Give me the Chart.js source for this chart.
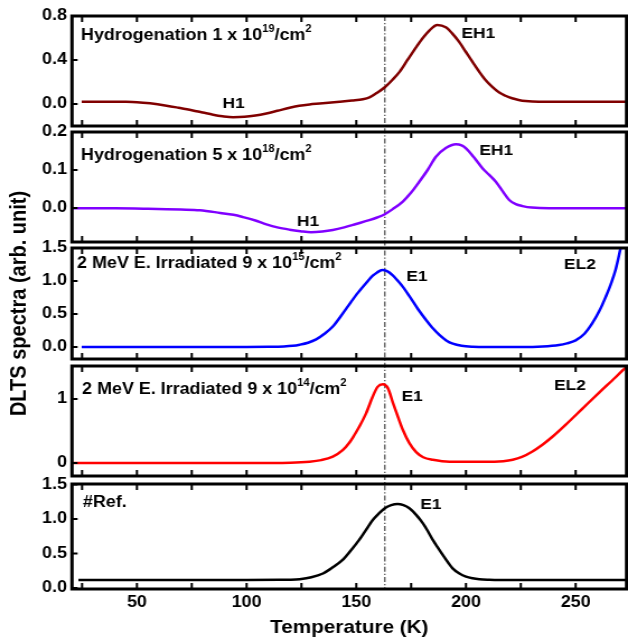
<!DOCTYPE html>
<html><head><meta charset="utf-8">
<script src="https://cdn.jsdelivr.net/npm/chart.js@4.4.1/dist/chart.umd.min.js"></script>
<style>
html,body{margin:0;padding:0;background:#fff;overflow:hidden;width:628px;height:643px;}
#c{position:absolute;left:0;top:0;transform:scaleX(1.11943);transform-origin:0 0;}
</style></head><body>
<canvas id="c" width="561" height="643"></canvas>
<script>
// ---- x axis ----
const X_MIN = 20.4, X_MAX = 273.2;
const X_TICKS = [25, 50, 75, 100, 125, 150, 175, 200, 225, 250];
const X_LABELED = [50, 100, 150, 200, 250];
const REF_LINE_T = 163.0;

// ---- series (Temperature K, DLTS signal) ----
const T1 = [24.8,35,45,50,56,63.5,69,75,80,84.7,89,93.8,99,104,109,114,119.6,124,128.7,133.3,142.4,148,153,156,159.1,163,166.5,169.8,173.5,177.4,180.5,183.4,186.9,190.8,193.8,196.8,199.9,202.9,206,208.9,212,215,218,221,224,227.1,233.2,245,260,273];
const V1 = [0.021,0.021,0.020,0.017,0.006,-0.015,-0.034,-0.056,-0.077,-0.097,-0.111,-0.120,-0.117,-0.105,-0.086,-0.062,-0.034,-0.016,-0.004,0.004,0.020,0.031,0.043,0.06,0.097,0.152,0.22,0.294,0.405,0.52,0.605,0.67,0.718,0.697,0.64,0.567,0.475,0.385,0.295,0.218,0.155,0.106,0.075,0.052,0.037,0.027,0.02,0.02,0.02,0.02];

const T2 = [20.4,40,55,63.6,70,78.7,88,94,98.4,104,109,114,119.6,124.5,129.4,134.5,139.3,144.5,149.9,155.9,159.5,162.8,166.6,171.2,174.9,178.7,182.5,186.3,190.8,195.4,198,200,203.8,207.6,210.6,213.6,216.6,219.7,222.7,225.8,230,237.9,255,273];
const V2 = [-0.001,-0.001,-0.002,-0.003,-0.004,-0.006,-0.013,-0.018,-0.024,-0.033,-0.043,-0.051,-0.057,-0.061,-0.064,-0.062,-0.058,-0.051,-0.042,-0.032,-0.025,-0.017,-0.003,0.017,0.04,0.069,0.10,0.135,0.158,0.168,0.165,0.157,0.132,0.104,0.087,0.069,0.045,0.021,0.01,0.005,0.001,-0.001,-0.001,-0.001];

const T3 = [24.8,60,100,110,117,121,124.2,128,131.7,135.5,139.3,143,146.9,150.7,154.5,157.5,159.5,161.8,164,166.5,169,171.5,174.2,178,181.8,185,188,191,194,198,203,210,225,235,242.4,246,250,254,257.6,261,263.7,266,268.2,270.5];
const V3 = [0,0,0,0.002,0.008,0.018,0.035,0.065,0.115,0.20,0.31,0.47,0.65,0.82,0.97,1.08,1.13,1.165,1.15,1.09,1.0,0.9,0.77,0.58,0.41,0.28,0.18,0.10,0.05,0.018,0.004,0,0,0.008,0.03,0.055,0.10,0.20,0.36,0.56,0.76,0.95,1.17,1.5];

const T4 = [20.4,60,100,120,128.7,134,139.3,143.8,146.9,149,151.4,154.5,157.5,159.7,162.1,164.4,166.7,169,171.2,174.2,177.3,180.5,184.9,192.5,205,213,217,221.3,225.5,230.3,235,239.4,245.5,253.1,260.7,268.2,273];
const V4 = [0,0,0,0.005,0.02,0.045,0.10,0.20,0.32,0.43,0.57,0.78,1.04,1.19,1.23,1.17,0.94,0.72,0.52,0.31,0.17,0.09,0.05,0.02,0.02,0.02,0.027,0.05,0.095,0.18,0.29,0.41,0.60,0.85,1.10,1.34,1.5];

const T5 = [23.3,60,100,115,120,124.2,129.5,134.8,139.3,143.9,147.7,151.4,154.5,157.5,160.3,163,165.9,168.8,171.5,174.2,177.3,180.3,182.5,184.8,187.1,189.4,191.6,193.9,197,200,203,206.1,210.6,215.1,230,250,273];
const V5 = [0.116,0.116,0.116,0.118,0.12,0.128,0.155,0.21,0.30,0.41,0.55,0.70,0.845,0.985,1.08,1.155,1.2,1.217,1.2,1.155,1.06,0.94,0.83,0.70,0.59,0.48,0.38,0.285,0.21,0.164,0.14,0.126,0.119,0.116,0.116,0.116,0.116];

// ---- panel y axes ----
const Y_RANGES = [[-0.2, 0.8], [-0.0895, 0.2], [-0.182, 1.5], [-0.203, 1.516], [-0.0145, 1.507]];
const Y_TICKS = [[0, 0.4, 0.8], [0, 0.1, 0.2], [0, 0.5, 1, 1.5], [0, 1], [0, 0.5, 1, 1.5]];
const Y_TICK_LABELS = [['0.0','0.4','0.8'], ['0.0','0.1','0.2'], ['0.0','0.5','1.0','1.5'], ['0','1'], ['0.0','0.5','1.0','1.5']];

// ---- texts ----
const TITLES = [
  ['Hydrogenation 1 x 10', '19', '/cm', '2'],
  ['Hydrogenation 5 x 10', '18', '/cm', '2'],
  ['2 MeV E. Irradiated 9 x 10', '15', '/cm', '2'],
  ['2 MeV E. Irradiated 9 x 10', '14', '/cm', '2'],
  ['#Ref.']
];
const TITLE_T = [24.5, 24.5, 22.7, 25.0, 25.4];
const TITLE_V = [0.582, 0.126, 1.197, 1.078, 1.174];
const PEAK_TEXT  = ['H1', 'EH1', 'H1', 'EH1', 'E1', 'EL2', 'E1', 'EL2', 'E1'];
const PEAK_PANEL = [0, 0, 1, 1, 2, 2, 3, 3, 4];
const PEAK_T     = [94.1, 197.9, 128.0, 206.1, 172.8, 244.7, 170.6, 240.2, 179.2];
const PEAK_V     = [-0.036, 0.60, -0.047, 0.139, 1.0, 1.18, 0.97, 1.14, 1.145];
const PEAK_ALIGN = ['center', 'left', 'center', 'left', 'left', 'left', 'left', 'left', 'left'];

// ---- style ----
const FONT = '"Liberation Sans", Arial, Helvetica, sans-serif';
const COLORS = ['#800000', '#8000ff', '#0000ff', '#ff0000', '#000000'];
const PANEL_H = [110, 110, 111, 110, 105];
const GAP_H = [6, 6, 7, 8];
const LEFT_W = 64.3;

const TS = [T1, T2, T3, T4, T5];
const VS = [V1, V2, V3, V4, V5];
const PANEL_IDS = ['p0', 'p1', 'p2', 'p3', 'p4'];

const scales = {
  x: {
    type: 'linear', position: 'bottom', min: X_MIN, max: X_MAX,
    grid: { display: false, drawTicks: false }, border: { display: false },
    afterBuildTicks: s => { s.ticks = X_TICKS.map(v => ({ value: v })); },
    afterFit: s => { s.height = 54; },
    ticks: {
      color: '#000', padding: 4, maxRotation: 0, autoSkip: false,
      font: { family: FONT, size: 16, weight: 'bold' },
      callback: v => (X_LABELED.includes(v) ? String(v) : '')
    },
    title: {
      display: true, text: 'Temperature (K)', color: '#000',
      font: { family: FONT, size: 18.5, weight: 'bold' }, padding: { top: 0, bottom: 4 }
    }
  }
};
let w = 9;
PANEL_IDS.forEach((id, i) => {
  scales[id] = {
    type: 'linear', position: 'left', stack: 'v', stackWeight: PANEL_H[i], weight: w--,
    min: Y_RANGES[i][0], max: Y_RANGES[i][1],
    grid: { display: false, drawTicks: false }, border: { display: false },
    afterBuildTicks: s => { s.ticks = Y_TICKS[i].map(v => ({ value: v })); },
    afterFit: s => { s.width = LEFT_W; },
    ticks: {
      color: '#000', padding: 4.5, autoSkip: false,
      font: { family: FONT, size: 16, weight: 'bold' },
      callback: (v, k) => Y_TICK_LABELS[i][k]
    },
    title: i === 2 ? {
      display: true, text: 'DLTS spectra (arb. unit)', color: '#000',
      font: { family: FONT, size: 20, weight: 'bold' }, padding: { top: 5, bottom: 0 }
    } : { display: false }
  };
  if (i < 4) {
    scales['g' + i] = {
      type: 'linear', position: 'left', stack: 'v', stackWeight: GAP_H[i], weight: w--,
      min: 0, max: 1, grid: { display: false, drawTicks: false }, border: { display: false },
      ticks: { display: false }, afterFit: s => { s.width = LEFT_W; }
    };
  }
});

const datasets = PANEL_IDS.map((id, i) => ({
  data: TS[i].map((t, k) => ({ x: t, y: VS[i][k] })),
  yAxisID: id, xAxisID: 'x',
  borderColor: COLORS[i], borderWidth: 2.5, pointRadius: 0, fill: false,
  cubicInterpolationMode: 'monotone'
}));

const framePlugin = {
  id: 'frame',
  beforeDatasetsDraw(chart) {
    const { ctx, chartArea: ca, scales: sc } = chart;
    const px = sc.x.getPixelForValue(REF_LINE_T);
    ctx.save();
    ctx.strokeStyle = '#555';
    ctx.lineWidth = 1.3;
    ctx.setLineDash([5, 2, 1.2, 2]);
    ctx.beginPath(); ctx.moveTo(px, ca.top); ctx.lineTo(px, ca.bottom); ctx.stroke();
    ctx.restore();
  },
  afterDatasetsDraw(chart) {
    const { ctx, chartArea: ca, scales: sc } = chart;
    const xs = sc.x;
    ctx.save();
    ctx.strokeStyle = '#000';
    PANEL_IDS.forEach(id => {
      const ys = sc[id];
      ctx.lineWidth = 3;
      ctx.strokeRect(ca.left, ys.top, ca.right - ca.left, ys.bottom - ys.top);
      ctx.lineWidth = 2;
      ctx.beginPath();
      xs.ticks.forEach(t => {
        const p = xs.getPixelForValue(t.value);
        ctx.moveTo(p, ys.top); ctx.lineTo(p, ys.top + 6);
        ctx.moveTo(p, ys.bottom); ctx.lineTo(p, ys.bottom - 6);
      });
      ys.ticks.forEach(t => {
        const p = ys.getPixelForValue(t.value);
        ctx.moveTo(ca.left, p); ctx.lineTo(ca.left + 5, p);
      });
      ctx.stroke();
    });
    ctx.fillStyle = '#000';
    ctx.textBaseline = 'alphabetic';
    ctx.textAlign = 'left';
    TITLES.forEach((segs, i) => {
      const ys = sc[PANEL_IDS[i]];
      let x = xs.getPixelForValue(TITLE_T[i]);
      const y = ys.getPixelForValue(TITLE_V[i]);
      segs.forEach((s, k) => {
        const sup = k % 2 === 1;
        ctx.font = 'bold ' + (sup ? 10 : 16) + 'px ' + FONT;
        ctx.fillText(s, x, sup ? y - 8 : y);
        x += ctx.measureText(s).width;
      });
    });
    ctx.font = 'bold 15.5px ' + FONT;
    PEAK_TEXT.forEach((s, i) => {
      const ys = sc[PANEL_IDS[PEAK_PANEL[i]]];
      ctx.textAlign = PEAK_ALIGN[i];
      ctx.fillText(s, xs.getPixelForValue(PEAK_T[i]), ys.getPixelForValue(PEAK_V[i]));
    });
    ctx.restore();
  }
};

new Chart(document.getElementById('c'), {
  type: 'line',
  data: { datasets },
  options: {
    responsive: false, animation: false, devicePixelRatio: 1,
    layout: { padding: { top: 16, right: 1.3, bottom: 0, left: 0 } },
    plugins: { legend: { display: false }, tooltip: { enabled: false } },
    scales
  },
  plugins: [framePlugin]
});
</script></body></html>
